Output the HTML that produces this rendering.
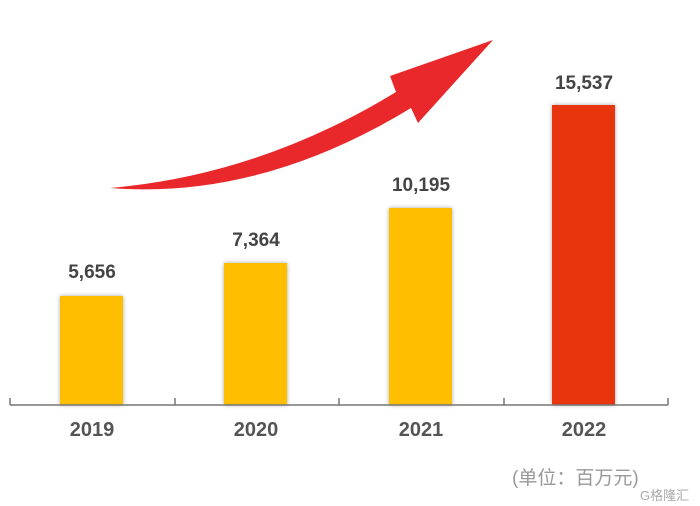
<!DOCTYPE html>
<html><head><meta charset="utf-8"><style>
body{margin:0;background:#fff;}
svg{display:block}
</style></head><body>
<svg width="700" height="506" viewBox="0 0 700 506" xmlns="http://www.w3.org/2000/svg">
<defs><filter id="sh" x="-20%" y="-20%" width="140%" height="140%"><feDropShadow dx="0" dy="0" stdDeviation="2" flood-color="#000" flood-opacity="0.35"/></filter></defs>
<path d="M110,188 Q260,175 396,92 L390,76 L493,40 L418,123 L411,108 Q260,200 110,188 Z" fill="#e8282a"/>
<g filter="url(#sh)">
<rect x="60" y="296" width="63" height="109" fill="#ffbf00"/>
<rect x="224" y="263" width="63" height="142" fill="#ffbf00"/>
<rect x="389" y="208" width="63" height="197" fill="#ffbf00"/>
<rect x="552" y="105" width="63" height="300" fill="#e8340c"/>
</g>
<g stroke="#777" stroke-width="1.5" fill="none">
<line x1="10" y1="405" x2="668" y2="405"/>
<line x1="10" y1="398" x2="10" y2="405"/><line x1="175" y1="398" x2="175" y2="405"/><line x1="339" y1="398" x2="339" y2="405"/><line x1="504" y1="398" x2="504" y2="405"/><line x1="668" y1="398" x2="668" y2="405"/>
</g>
<g font-family="Liberation Sans, sans-serif" font-size="19" font-weight="bold" fill="#444" text-anchor="middle">
<text x="92" y="278">5,656</text>
<text x="256" y="246">7,364</text>
<text x="421" y="191">10,195</text>
<text x="584" y="89">15,537</text>
</g>
<g font-family="Liberation Sans, sans-serif" font-size="20" font-weight="bold" fill="#555" text-anchor="middle">
<text x="92" y="436">2019</text>
<text x="256" y="436">2020</text>
<text x="421" y="436">2021</text>
<text x="584" y="436">2022</text>
</g>
<text x="512" y="484" font-family="Liberation Sans, 'Noto Sans CJK SC', sans-serif" font-size="19" fill="#999">(单位：百万元)</text>
<text x="640" y="500" font-family="Liberation Sans, 'Noto Sans CJK SC', sans-serif" font-size="13" fill="#aaa">G格隆汇</text>
</svg>
</body></html>
